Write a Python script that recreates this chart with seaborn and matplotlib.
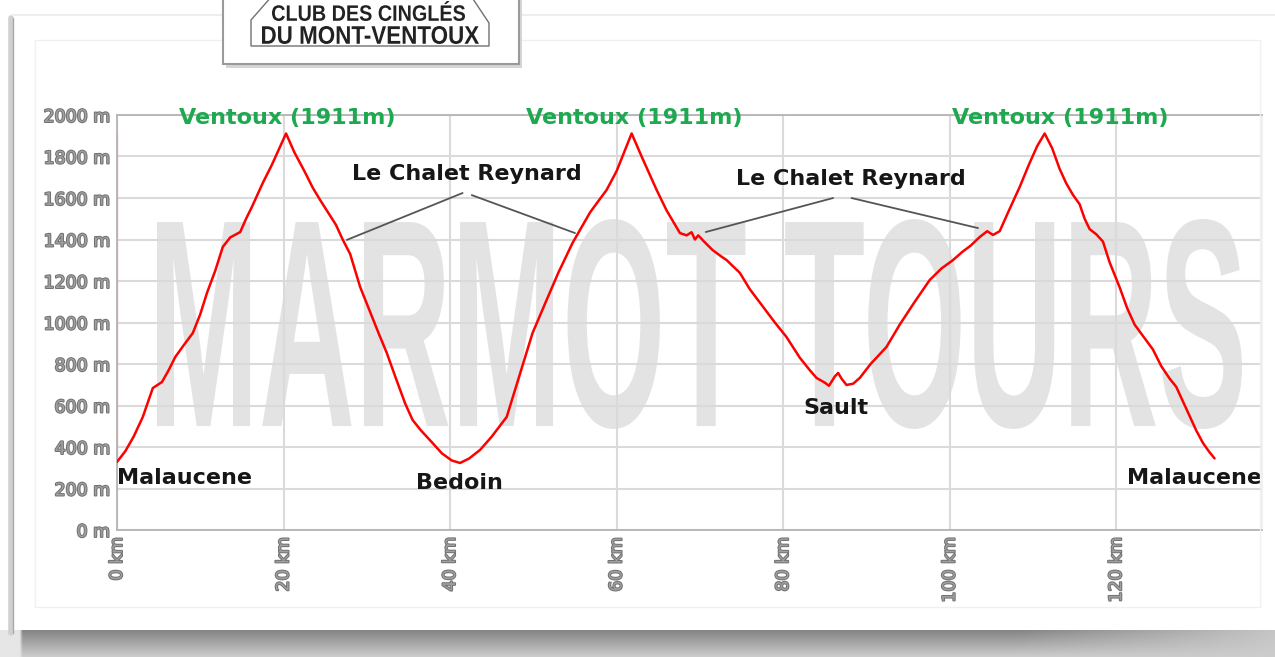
import numpy as np
import matplotlib
matplotlib.use("Agg")
import matplotlib.pyplot as plt
import matplotlib.patheffects as pe
from matplotlib.patches import Rectangle, Polygon
from matplotlib.lines import Line2D
from matplotlib.transforms import Affine2D
from matplotlib.textpath import TextPath
from matplotlib.font_manager import FontProperties
import seaborn as sns

# --- elevation profile (km, m) ---
dist_km = [0.0, 1.0, 2.0, 3.1, 4.3, 5.4, 6.2, 7.0, 8.0, 9.1, 10.0, 10.8, 11.8, 12.7, 13.6, 14.8,
           15.5, 16.2, 17.5, 18.6, 19.5, 20.3,
           21.3, 22.5, 23.5, 24.4, 25.5, 26.3, 27.1, 28.0, 29.2, 30.5, 31.5, 32.4, 33.5, 34.6,
           35.5, 36.5, 37.9, 39.0, 40.2, 41.2, 42.3, 43.6, 45.0, 46.8, 48.3, 49.9, 51.5, 53.0,
           54.7, 55.8, 56.8, 57.8, 58.8, 60.0, 61.0, 61.8,
           63.0, 64.8, 66.0, 67.6, 68.4, 69.0, 69.4, 69.8, 70.5, 71.5, 72.5, 73.2, 74.8, 76.0,
           77.6, 79.0, 80.4, 82.0, 83.2, 84.0, 85.0, 85.5, 86.2, 86.6, 87.0, 87.6, 88.4, 89.2,
           90.5, 92.4, 94.0, 95.8, 97.6, 99.0, 100.4, 101.5, 102.5, 103.6, 104.5, 105.2, 106.0,
           107.0, 108.4, 109.5, 110.5, 111.4,
           112.3, 113.2, 114.0, 114.8, 115.6, 116.2, 116.8, 117.6, 118.4, 119.2, 120.4, 121.3,
           122.2, 123.3, 124.4, 125.4, 126.4, 127.2, 128.0, 128.8, 129.6, 130.4, 131.1, 131.8]
elev_m = [328, 380, 450, 545, 684, 713, 770, 834, 890, 949, 1040, 1142, 1250, 1364, 1410, 1436,
          1500, 1557, 1672, 1760, 1840, 1911,
          1820, 1730, 1650, 1590, 1520, 1470, 1400, 1330, 1171, 1040, 940, 853, 730, 610,
          530, 480, 419, 370, 335, 323, 345, 386, 450, 545, 740, 949, 1100, 1240,
          1383, 1460, 1530, 1585, 1639, 1730, 1830, 1911,
          1800, 1639, 1540, 1431, 1420, 1435, 1400, 1420, 1390, 1350, 1320, 1301, 1239, 1160,
          1075, 1000, 930, 830, 770, 733, 710, 695, 740, 757, 730, 699, 705, 733,
          800, 882, 990, 1100, 1205, 1260, 1301, 1340, 1370, 1412, 1440, 1422, 1440,
          1530, 1653, 1760, 1850, 1911,
          1840, 1740, 1670, 1615, 1570, 1500, 1450, 1425, 1390, 1290, 1170, 1070,
          990, 930, 870, 790, 730, 690, 620, 550, 480, 420, 380, 345]

x_ticks = [0, 20, 40, 60, 80, 100, 120]
x_tick_labels = ["0 km", "20 km", "40 km", "60 km", "80 km", "100 km", "120 km"]
y_ticks = [0, 200, 400, 600, 800, 1000, 1200, 1400, 1600, 1800, 2000]
y_tick_labels = ["0 m", "200 m", "400 m", "600 m", "800 m", "1000 m", "1200 m", "1400 m",
                 "1600 m", "1800 m", "2000 m"]

summit_km = [20.4, 62.1, 113.3]
summit_label = "Ventoux (1911m)"
chalet_km = [42.0, 88.1]
chalet_m = [1718, 1690]
chalet_label = "Le Chalet Reynard"
# leader lines: (label end km, label end m, point km, point m)
chalet_leaders = [(41.5, 1624, 27.6, 1398), (42.6, 1614, 55.0, 1431),
                  (86.0, 1600, 70.7, 1436), (88.2, 1600, 103.4, 1455)]
towns = ["Malaucene", "Bedoin", "Sault", "Malaucene"]
town_km = [0.0, 41.1, 86.3, 137.5]
town_m = [250, 227, 588, 250]

W, H, DPI = 1275, 657, 100


class Stretch(pe.AbstractPathEffect):
    """draws glyph outlines scaled around an anchor point (display px)"""
    def __init__(self, sx, sy, cx, cy):
        super().__init__()
        self.t = Affine2D().translate(-cx, -cy).scale(sx, sy).translate(cx, cy)

    def draw_path(self, renderer, gc, tpath, affine, rgbFace=None):
        renderer.draw_path(gc, tpath, affine + self.t, rgbFace)


def fitted_text(fig, s, x0, y0, x1, y1, color, family, weight="bold", zorder=1):
    # fit the ink of s into the pixel box (x0, y0)-(x1, y1), y measured from the top;
    # font size is picked so the width is natural, only the height gets stretched
    fp = FontProperties(family=family, weight=weight, size=40)
    ext = TextPath((0, 0), s, size=40 * DPI / 72, prop=fp).get_extents()
    fs = 40 * (x1 - x0) / ext.width
    fp = FontProperties(family=family, weight=weight, size=fs)
    ext = TextPath((0, 0), s, size=fs * DPI / 72, prop=fp).get_extents()
    sx = (x1 - x0) / ext.width
    sy = (y1 - y0) / ext.height
    ax_ = x0 - sx * ext.x0
    ay_ = (H - y1) - sy * ext.y0
    return fig.text(ax_ / W, ay_ / H, s, fontproperties=fp, color=color, ha="left",
                    va="baseline", zorder=zorder, path_effects=[Stretch(sx, sy, ax_, ay_)])


def fx(x):
    return x / W


def fy(y):
    return 1 - y / H


sns.set_theme(style="white")
plt.rcParams["font.family"] = ["DejaVu Sans"]

fig = plt.figure(figsize=(W / DPI, H / DPI), dpi=DPI, facecolor="white")

# --- page frame / shadows ---
shadow = fig.add_axes([0, 0, 1, 27 / H])
yy = np.linspace(0, 1, 30)[:, None]
xx = np.linspace(0, 1, 300)[None, :]
band = 0.52 + 0.28 * yy + 0.25 * np.clip((xx - 0.8) / 0.2, 0, 1) * (1 - yy)
band = np.where(xx < 0.015, 0.9, band)
shadow.imshow(np.clip(band, 0, 1), cmap="gray", vmin=0, vmax=1, aspect="auto")
shadow.axis("off")

fig.add_artist(Line2D([fx(11), fx(11)], [fy(18), fy(633)], color="#d0d0d0", lw=4,
                      transform=fig.transFigure))
fig.add_artist(Line2D([fx(13), fx(13)], [fy(18), fy(633)], color="#a8a8a8", lw=1,
                      transform=fig.transFigure))
fig.add_artist(Line2D([fx(12), fx(1275)], [fy(15), fy(15)], color="#eeeeee", lw=1.5,
                      transform=fig.transFigure))
fig.add_artist(Rectangle((fx(35), fy(607)), fx(1260) - fx(35), fy(40) - fy(607),
                         fill=False, edgecolor="#f0f0f0", lw=1, transform=fig.transFigure))

# --- logo box ---
fig.add_artist(Rectangle((fx(226), fy(68)), fx(296), fy(0) - fy(68) + 0.02,
                         facecolor="#d5d5d5", edgecolor="none", transform=fig.transFigure,
                         zorder=2))
fig.add_artist(Rectangle((fx(223), fy(64)), fx(296), fy(0) - fy(64) + 0.02,
                         facecolor="white", edgecolor="#9a9a9a", lw=1.5,
                         transform=fig.transFigure, zorder=3))
outline = [(272, -4), (251, 20), (251, 46), (489, 46), (489, 23), (471, -4)]
fig.add_artist(Polygon([(fx(a), fy(b)) for a, b in outline], closed=False, fill=False,
                       edgecolor="#707070", lw=1, transform=fig.transFigure, zorder=4))
logo_font = ["Liberation Sans Narrow", "Liberation Sans", "DejaVu Sans"]
fitted_text(fig, "CLUB DES CINGLÉS", 272, 1, 465, 21, "#222222", logo_font, zorder=5)
fitted_text(fig, "DU MONT-VENTOUX", 262, 26, 479, 44, "#222222", logo_font, zorder=5)

# --- chart ---
ax = fig.add_axes([fx(117), fy(530), (1262 - 117) / W, (530 - 115) / H])
ax.set_facecolor("white")

wm = fitted_text(fig, "MARMOT TOURS", 157, 219, 1242, 429, "#e3e3e3",
                 ["Liberation Sans Narrow", "Liberation Sans", "DejaVu Sans"], zorder=0.2)
wm.remove()
ax.add_artist(wm)
wm.set_transform(fig.transFigure)
wm.set_zorder(0.2)

ax.vlines(dist_km[0], elev_m[0], max(elev_m), color="#ff9a9a", lw=0.9, zorder=2)
sns.lineplot(x=dist_km, y=elev_m, ax=ax, color="#ff0000", lw=1.8, sort=False,
             estimator=None, zorder=3)

ax.set_xlim(0, 137.5)
ax.set_ylim(0, 2000)
ax.set_xticks(x_ticks)
ax.set_xticklabels(x_tick_labels, rotation=90)
ax.set_yticks(y_ticks)
ax.set_yticklabels(y_tick_labels)
ax.set_axisbelow(True)
ax.grid(True, color="#dadada", lw=1.5)
ax.tick_params(length=0, labelsize=12.5, labelcolor="#a0a0a0", pad=5)
outline_fx = [pe.withStroke(linewidth=1.4, foreground="#707070")]
for lab in ax.get_xticklabels() + ax.get_yticklabels():
    lab.set_path_effects(outline_fx)
for side in ["left", "bottom", "top"]:
    ax.spines[side].set_color("#b4b4b4")
    ax.spines[side].set_linewidth(1.3)
ax.spines["right"].set_color("#eeeeee")
ax.set_xlabel("")
ax.set_ylabel("")

for k in summit_km:
    ax.text(k, 1985, summit_label, color="#1ea84f", fontsize=16, fontweight="bold",
            ha="center", va="center", zorder=5, clip_on=False)
for k, m in zip(chalet_km, chalet_m):
    ax.text(k, m, chalet_label, color="#161616", fontsize=16, fontweight="bold",
            ha="center", va="center", zorder=5)
for x0, y0, x1, y1 in chalet_leaders:
    ax.plot([x0, x1], [y0, y1], color="#555555", lw=1.3, zorder=4)

aligns = ["left", "center", "center", "right"]
for name, k, m, al in zip(towns, town_km, town_m, aligns):
    ax.text(k, m, name, color="#161616", fontsize=16, fontweight="bold", ha=al,
            va="center", zorder=5)

fig.savefig("out.png", dpi=DPI, facecolor="white")
